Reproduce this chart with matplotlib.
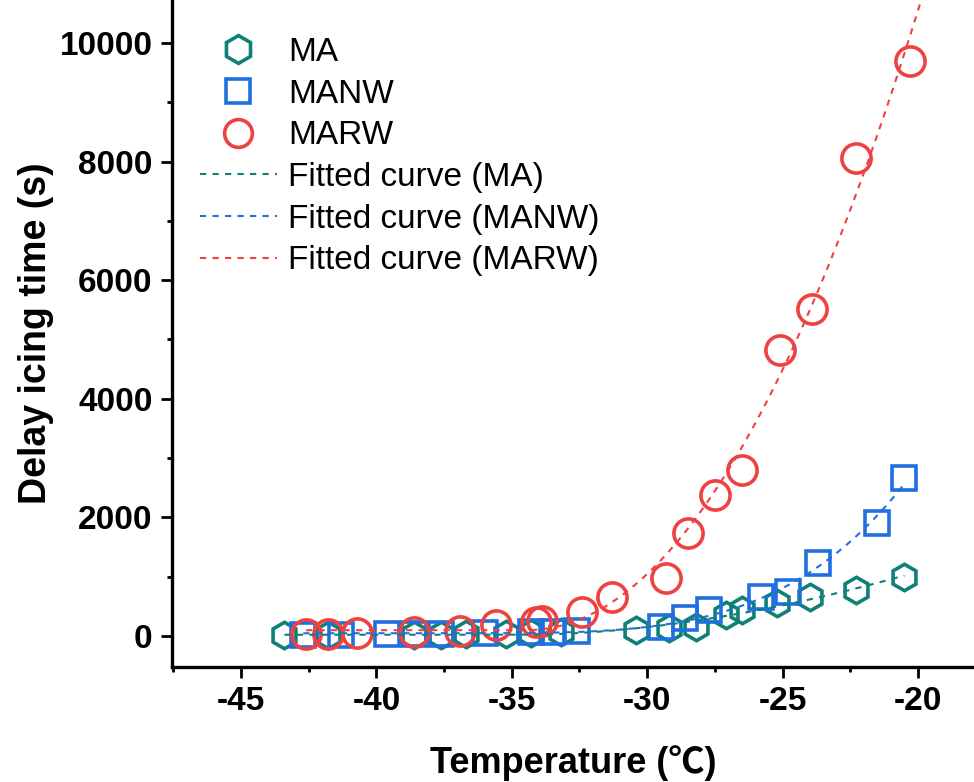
import numpy as np
import matplotlib.pyplot as plt
from matplotlib.lines import Line2D
from matplotlib.ticker import MultipleLocator

# plot colors
teal = "#0F8076"
blue = "#1F6FE0"
red = "#F04141"

# data (temperature in degC, delay in s)
ma_temp = [-43.4, -41.8, -38.6, -37.6, -36.7, -35.2, -34.3, -33.2, -30.4, -29.2,
           -28.2, -27.1, -26.5, -25.2, -24.0, -22.3, -20.5]
ma_time = [10, 15, 20, 25, 30, 40, 50, 60, 100, 135, 150, 350, 440, 560, 660, 780, 995]

manw_temp = [-42.7, -41.3, -39.6, -38.6, -37.6, -36.0, -34.3, -33.5, -32.6, -29.5,
             -28.6, -27.7, -25.8, -24.8, -23.7, -21.5, -20.5]
manw_time = [20, 25, 30, 35, 40, 50, 60, 70, 80, 150, 300, 430, 660, 740, 1230, 1900, 2660]

marw_temp = [-42.6, -41.8, -40.7, -38.6, -36.9, -35.6, -34.1, -33.9, -32.4, -31.3,
             -29.3, -28.5, -27.5, -26.5, -25.1, -23.9, -22.3, -20.3]
marw_time = [30, 40, 50, 70, 90, 185, 235, 260, 400, 660, 980, 1735, 2380, 2800,
             4820, 5515, 8060, 9700]


def onset_fit(x, y):
    # y = y0 + A*max(x - x0, 0)**p, x0 and p by grid search, y0/A by least squares
    x = np.asarray(x, float)
    y = np.asarray(y, float)
    best = None
    for x0 in np.linspace(-46, -34.5, 116):
        for p in np.linspace(1.0, 4.0, 61):
            b = np.clip(x - x0, 0, None) ** p
            m = np.column_stack([np.ones_like(x), b])
            y0, a = np.linalg.lstsq(m, y, rcond=None)[0]
            err = np.sum((y0 + a * b - y) ** 2)
            if best is None or err < best[0]:
                best = (err, x0, p, y0, a)
    _, x0, p, y0, a = best
    return lambda t: y0 + a * np.clip(t - x0, 0, None) ** p


plt.rcParams['font.family'] = ['Liberation Sans', 'DejaVu Sans']
plt.rcParams['axes.unicode_minus'] = False

fig = plt.figure(figsize=(9.74, 7.82), dpi=100)
ax = fig.add_axes([172 / 974, 1 - 667 / 782, 1 - 172 / 974, 667 / 782])

ax.plot(ma_temp, ma_time, linestyle="none", marker="h", markersize=19,
        markerfacecolor="none", markeredgecolor=teal, markeredgewidth=2.6)
ax.plot(manw_temp, manw_time, linestyle="none", marker="s", markersize=17,
        markerfacecolor="none", markeredgecolor=blue, markeredgewidth=2.6)
ax.plot(marw_temp, marw_time, linestyle="none", marker="o", markersize=21,
        markerfacecolor="none", markeredgecolor=red, markeredgewidth=2.6)

fit_ma = onset_fit(ma_temp, ma_time)
fit_manw = onset_fit(manw_temp, manw_time)
fit_marw = onset_fit(marw_temp, marw_time)

t_ma = np.linspace(min(ma_temp), max(ma_temp), 300)
t_manw = np.linspace(min(manw_temp), max(manw_temp), 300)
t_marw = np.linspace(min(marw_temp), -19.5, 300)
ax.plot(t_ma, fit_ma(t_ma), color=teal, linestyle=(0, (3, 3)), linewidth=1.5)
ax.plot(t_manw, fit_manw(t_manw), color=blue, linestyle=(0, (3, 3)), linewidth=1.5)
ax.plot(t_marw, fit_marw(t_marw), color=red, linestyle=(0, (3, 3)), linewidth=1.5)

ax.set_xlim(-47.55, -17.93)
ax.set_ylim(-523, 10725)
ax.xaxis.set_major_locator(MultipleLocator(5))
ax.xaxis.set_minor_locator(MultipleLocator(2.5))
ax.yaxis.set_major_locator(MultipleLocator(2000))
ax.yaxis.set_minor_locator(MultipleLocator(1000))

for side in ["top", "right"]:
    ax.spines[side].set_visible(False)
for side in ["left", "bottom"]:
    ax.spines[side].set_linewidth(2.4)

ax.tick_params(which="major", direction="out", length=8, width=2, labelsize=24, pad=6)
ax.tick_params(which="minor", direction="out", length=3.5, width=2)
for lab in ax.get_xticklabels() + ax.get_yticklabels():
    lab.set_fontweight("bold")

ax.set_xlabel("Temperature (℃)", fontsize=26, fontweight="bold",
              family=['Liberation Sans', 'Noto Sans CJK SC'], labelpad=20)
ax.set_ylabel("Delay icing time (s)", fontsize=27, fontweight="bold", labelpad=4)

handles = [
    Line2D([], [], linestyle="none", marker="h", markersize=20, markerfacecolor="none",
           markeredgecolor=teal, markeredgewidth=2.6),
    Line2D([], [], linestyle="none", marker="s", markersize=17, markerfacecolor="none",
           markeredgecolor=blue, markeredgewidth=2.6),
    Line2D([], [], linestyle="none", marker="o", markersize=20, markerfacecolor="none",
           markeredgecolor=red, markeredgewidth=2.6),
    Line2D([], [], color=teal, linestyle=(0, (3, 3)), linewidth=1.5),
    Line2D([], [], color=blue, linestyle=(0, (3, 3)), linewidth=1.5),
    Line2D([], [], color=red, linestyle=(0, (3, 3)), linewidth=1.5),
]
labels = ["MA", "MANW", "MARW", "Fitted curve (MA)", "Fitted curve (MANW)",
          "Fitted curve (MARW)"]
fig.legend(handles, labels, loc="upper left", bbox_to_anchor=(200 / 974, 1 - 37 / 782),
           frameon=False, fontsize=24, borderpad=0, borderaxespad=0,
           handlelength=2.3, handletextpad=0.35, labelspacing=0.32)

fig.savefig("out.png", dpi=100)
